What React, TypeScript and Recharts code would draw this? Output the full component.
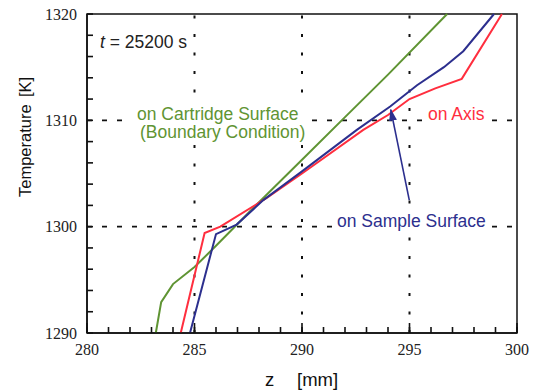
import React from 'react';
import {
  LineChart,
  Line,
  XAxis,
  YAxis,
  ReferenceLine,
  ReferenceArea,
} from 'recharts';

// values (z in mm, T in K)
const cartridgeZ = [283.2, 283.45, 284.0, 285.0, 286.0, 288.0, 290.0, 292.0, 294.0, 296.75];
const cartridgeT = [1290, 1292.9, 1294.6, 1296.2, 1298.2, 1302.3, 1306.3, 1310.3, 1314.3, 1320];

const axisZ = [284.36, 285.47, 286.2, 288.36, 290.0, 292.85, 294.0, 295.0, 296.2, 297.43, 299.3];
const axisT = [1290, 1299.4, 1300.0, 1302.7, 1305.0, 1309.1, 1310.5, 1312.0, 1313.0, 1313.9, 1320];

const sampleZ = [284.79, 286.0, 286.96, 288.2, 290.0, 292.55, 294.1, 295.35, 296.6, 297.5, 298.93];
const sampleT = [1290, 1299.3, 1300.2, 1302.5, 1305.2, 1309.1, 1311.3, 1313.3, 1315.0, 1316.5, 1320];

// pointer from the "on Sample Surface" label to its curve
const arrowZ = [294.99, 294.13];
const arrowT = [1302.5, 1311.0];

const xTicks = [280, 281, 282, 283, 284, 285, 286, 287, 288, 289, 290, 291, 292, 293, 294, 295, 296, 297, 298, 299, 300];
const yTicks = [1290, 1292, 1294, 1296, 1298, 1300, 1302, 1304, 1306, 1308, 1310, 1312, 1314, 1316, 1318, 1320];
const xGrid = [285, 290, 295];
const yGrid = [1300, 1310];

const GREEN = '#5f9433';
const RED = '#ff2e3e';
const BLUE = '#2c2f8e';
const SANS = '"Liberation Sans", Arial, sans-serif';
const SERIF = '"Liberation Serif", "Times New Roman", serif';

const W = 540;
const H = 391;
const MINOR = 6;
const MAJOR = 10;
const X_MARGIN = 17;

const toPoints = (zs: number[], ts: number[]) => zs.map((z, i) => ({ z, T: ts[i] }));

const cartridge = toPoints(cartridgeZ, cartridgeT);
const onAxis = toPoints(axisZ, axisT);
const sample = toPoints(sampleZ, sampleT);
const arrow = toPoints(arrowZ, arrowT);

// labels only every 5 mm; those ticks are drawn longer
function XTick({ x, y, payload }: any) {
  if (payload.value % 5 !== 0) return <g />;
  const axisY = y - X_MARGIN + MINOR;
  return (
    <g>
      <line x1={x} x2={x} y1={axisY} y2={axisY - MAJOR} stroke="#111" strokeWidth={1.6} />
      <text x={x} y={y} dy="0.71em" textAnchor="middle" fontFamily={SERIF} fontSize={16} fill="#222">
        {payload.value}
      </text>
    </g>
  );
}

function YTick({ x, y, payload }: any) {
  if (payload.value % 10 !== 0) return <g />;
  return (
    <text x={x} y={y} dy="0.355em" textAnchor="end" fontFamily={SERIF} fontSize={16} fill="#222">
      {payload.value}
    </text>
  );
}

// texts drawn above the plot; white boxes break the dotted grid behind them
function Annotations() {
  const fs = 17.5;
  return (
    <svg
      width={W}
      height={H}
      style={{ position: 'absolute', left: 0, top: 0, pointerEvents: 'none' }}
      fontFamily={SANS}
    >
      <text x={100} y={48} fontSize={17.5} fill="#222">
        <tspan fontStyle="italic">t</tspan>
        <tspan> = 25200 s</tspan>
      </text>

      <rect x={131} y={104} width={174} height={38} fill="#fff" />
      <text x={137} y={120} fontSize={fs} fill={GREEN}>on Cartridge Surface</text>
      <text x={140} y={138} fontSize={fs} fill={GREEN}>(Boundary Condition)</text>

      <rect x={426} y={105} width={64} height={20} fill="#fff" />
      <text x={428} y={120} fontSize={fs} fill={RED}>on Axis</text>

      <rect x={334} y={211} width={158} height={21} fill="#fff" />
      <text x={337} y={227} fontSize={fs} fill={BLUE}>on Sample Surface</text>

      <text x={265} y={386} fontSize={18.5} fill="#111">z</text>
      <text x={297} y={386} fontSize={18.5} fill="#111">[mm]</text>

      <text x={31} y={197} fontSize={16.5} fill="#111" transform="rotate(-90 31 197)">Temperature</text>
      <text x={31} y={97} fontSize={16.5} fill="#111" transform="rotate(-90 31 97)">[K]</text>
    </svg>
  );
}

export default function App() {
  return (
    <div style={{ position: 'relative', left: -8, top: -8, width: W, height: H, background: '#fff' }}>
      <svg width={0} height={0} style={{ position: 'absolute' }}>
        <defs>
          <marker
            id="arrowHead"
            viewBox="0 0 12 8"
            refX={11}
            refY={4}
            markerWidth={12}
            markerHeight={8}
            markerUnits="userSpaceOnUse"
            orient="auto"
          >
            <path d="M0,0 L12,4 L0,8 z" fill={BLUE} />
          </marker>
        </defs>
      </svg>
      <LineChart width={W} height={H} margin={{ top: 14, right: 23, left: 0, bottom: 0 }}>
        <XAxis
          type="number"
          dataKey="z"
          domain={[280, 300]}
          ticks={xTicks}
          interval={0}
          height={58}
          axisLine={{ stroke: '#111', strokeWidth: 1.5 }}
          tickSize={-MINOR}
          tickMargin={X_MARGIN}
          tickLine={{ stroke: '#111', strokeWidth: 1.6 }}
          tick={<XTick />}
        />
        <YAxis
          type="number"
          dataKey="T"
          domain={[1290, 1320]}
          ticks={yTicks}
          interval={0}
          width={87}
          axisLine={{ stroke: '#111', strokeWidth: 1.5 }}
          tickSize={-MINOR}
          tickMargin={16}
          tickLine={{ stroke: '#111', strokeWidth: 1.6 }}
          tick={<YTick />}
        />
        {xGrid.map((x) => (
          <ReferenceLine key={`x${x}`} x={x} stroke="#111" strokeWidth={2} strokeDasharray="3 15.5" />
        ))}
        {yGrid.map((y) => (
          <ReferenceLine key={`y${y}`} y={y} stroke="#111" strokeWidth={1.6} strokeDasharray="5 10" />
        ))}
        <ReferenceArea x1={280} x2={300} y1={1290} y2={1320} fill="none" stroke="#111" strokeWidth={1.5} />
        <Line data={cartridge} dataKey="T" stroke={GREEN} strokeWidth={2} dot={false} isAnimationActive={false} />
        <Line data={onAxis} dataKey="T" stroke={RED} strokeWidth={2} dot={false} isAnimationActive={false} />
        <Line data={sample} dataKey="T" stroke={BLUE} strokeWidth={2} dot={false} isAnimationActive={false} />
        <Line
          data={arrow}
          dataKey="T"
          stroke={BLUE}
          strokeWidth={1.6}
          dot={false}
          markerEnd="url(#arrowHead)"
          isAnimationActive={false}
        />
      </LineChart>
      <Annotations />
    </div>
  );
}
